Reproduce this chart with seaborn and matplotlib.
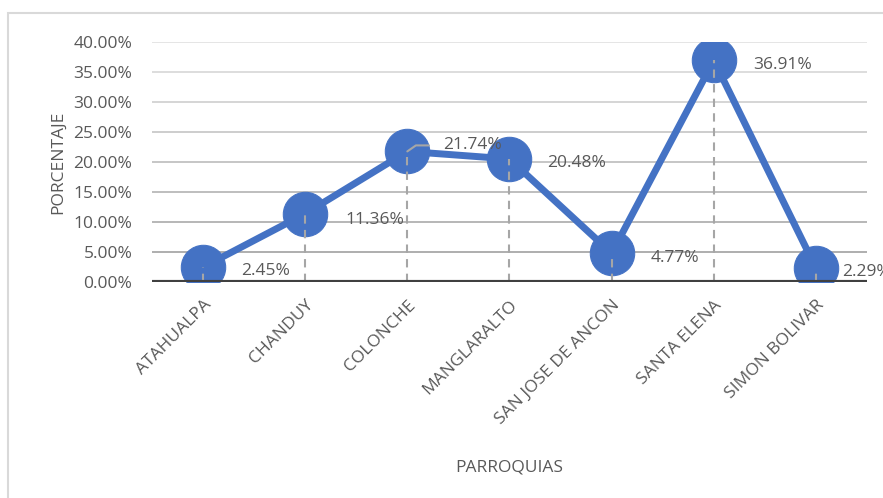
import matplotlib

matplotlib.use("Agg")
import matplotlib.pyplot as plt
import numpy as np
import pandas as pd
import seaborn as sns
from matplotlib.patches import Rectangle

parroquias = [
    "ATAHUALPA",
    "CHANDUY",
    "COLONCHE",
    "MANGLARALTO",
    "SAN JOSE DE ANCON",
    "SANTA ELENA",
    "SIMON BOLIVAR",
]
porcentaje = [2.45, 11.36, 21.74, 20.48, 4.77, 36.91, 2.29]
y_ticks = [0, 5, 10, 15, 20, 25, 30, 35, 40]

# label offsets in pixels (dx, dy) relative to each point
label_offsets = [(38, -4), (40, -6), (36, 6), (38, -4), (39, -5), (39, -5), (26, -4)]

BLUE = "#4472C4"
TEXT = "#595959"
FS = 12.5

sns.set_theme(style="white")
plt.rcParams["font.family"] = ["Open Sans", "DejaVu Sans"]

df = pd.DataFrame({"parroquia": parroquias, "porcentaje": porcentaje})

fig = plt.figure(figsize=(8.83, 4.98), dpi=100)
ax = fig.add_axes([0.172, 0.434, 0.810, 0.482])

# gridlines, lighter towards the top
grays = np.linspace(0.63, 0.88, len(y_ticks) - 1)
for t, g in zip(y_ticks[1:], grays):
    ax.axhline(t, color=(g, g, g), linewidth=1.2, zorder=0)

sns.lineplot(
    data=df,
    x="parroquia",
    y="porcentaje",
    sort=False,
    color=BLUE,
    linewidth=5,
    marker="o",
    markersize=32,
    markeredgecolor=BLUE,
    ax=ax,
    zorder=3,
)

ax.vlines(
    df["parroquia"], 0, df["porcentaje"],
    colors="#a6a6a6", linestyles=(0, (4, 3)), linewidth=1.5, zorder=4,
)
ax.axhline(0, color="#404040", linewidth=3, zorder=5)

for i, (v, (dx, dy)) in enumerate(zip(porcentaje, label_offsets)):
    kw = {}
    if i == 2:
        kw["arrowprops"] = dict(
            arrowstyle="-", color="#a6a6a6", lw=1.5,
            connectionstyle="angle,angleA=180,angleB=35,rad=0",
            shrinkA=8, shrinkB=0, relpos=(0, 0.5),
        )
    ax.annotate(
        f"{v:.2f}%", (i, v), xytext=(dx, dy), textcoords="offset pixels",
        ha="left", va="center", fontsize=FS, color=TEXT, zorder=6,
        annotation_clip=False, **kw,
    )

ax.set_xlim(-0.5, len(parroquias) - 0.5)
ax.set_ylim(0, 40)
ax.set_yticks(y_ticks)
ax.set_yticklabels([f"{t:.2f}%" for t in y_ticks])
ax.tick_params(axis="both", length=0, labelsize=FS, colors=TEXT)
ax.tick_params(axis="y", pad=14)
plt.setp(ax.get_xticklabels(), rotation=45, ha="right", rotation_mode="anchor")
ax.tick_params(axis="x", pad=11)

ax.set_xlabel("PARROQUIAS", fontsize=FS, color=TEXT)
ax.set_ylabel("PORCENTAJE", fontsize=FS, color=TEXT)
ax.xaxis.set_label_coords(0.50, -0.74)
ax.yaxis.set_label_coords(-0.12, 0.5)
sns.despine(ax=ax, left=True, bottom=True)

fig.patches.append(
    Rectangle(
        (8 / 883, -0.1), 1.2, 1 - 13 / 498 + 0.1,
        transform=fig.transFigure, fill=False, edgecolor="#d9d9d9", linewidth=1.5,
    )
)

fig.savefig("out.png", dpi=100)
